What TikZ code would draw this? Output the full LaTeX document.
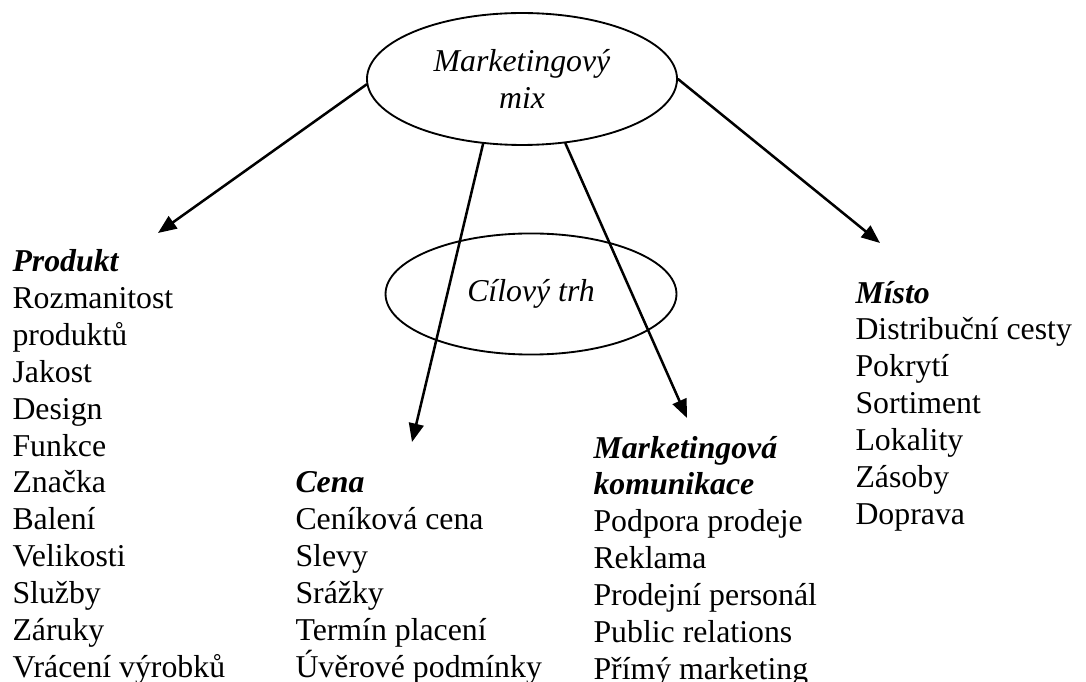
\documentclass[tikz,border=0pt]{standalone}
\usepackage{fontspec}
\setmainfont{Liberation Serif}
\usetikzlibrary{shapes.geometric,arrows.meta}

\begin{document}
\begin{tikzpicture}[x=0.3774pt,y=-0.3774pt,line cap=round,
  font=\fontsize{12}{13.9}\selectfont,
  bubble/.style={draw,ellipse,line width=0.7pt,inner sep=0pt,align=center,font=\fontsize{12}{13.9}\selectfont\itshape},
  block/.style={anchor=base west,inner sep=0pt,align=left},
  link/.style={line width=0.95pt,-{Triangle[length=7pt,width=5.6pt]}}]
  \useasboundingbox (0,0) rectangle (1086,682);
  \node[bubble,minimum width=117pt,minimum height=49.8pt] (mix) at (522,79) {Marketingový\\mix};
  \node[bubble,minimum width=109.8pt,minimum height=45.7pt] (trh) at (531,294) {Cílový trh};
  % anchored at the baseline of the last line
  \node[block] (produkt) at (12,677) {\textbf{\textit{Produkt}}\\Rozmanitost\\produktů\\Jakost\\Design\\Funkce\\Značka\\Balení\\Velikosti\\Služby\\Záruky\\Vrácení výrobků};
  \node[block] (cena) at (295,677) {\textbf{\textit{Cena}}\\Ceníková cena\\Slevy\\Srážky\\Termín placení\\Úvěrové podmínky};
  \node[block] (komunikace) at (593,679) {\textbf{\textit{Marketingová}}\\\textbf{\textit{komunikace}}\\Podpora prodeje\\Reklama\\Prodejní personál\\Public relations\\Přímý marketing};
  \node[block] (misto) at (855,524) {\textbf{\textit{Místo}}\\Distribuční cesty\\Pokrytí\\Sortiment\\Lokality\\Zásoby\\Doprava};
  \coordinate (pTip) at (158,233); \coordinate (cTip) at (412,442);
  \coordinate (kTip) at (687,418); \coordinate (mTip) at (880,243);
  \draw[link] (mix.182) -- (pTip); \draw[link] (mix.239) -- (cTip);
  \draw[link] (mix.304.5) -- (kTip); \draw[link] (mix.0.7) -- (mTip);
\end{tikzpicture}
\end{document}
